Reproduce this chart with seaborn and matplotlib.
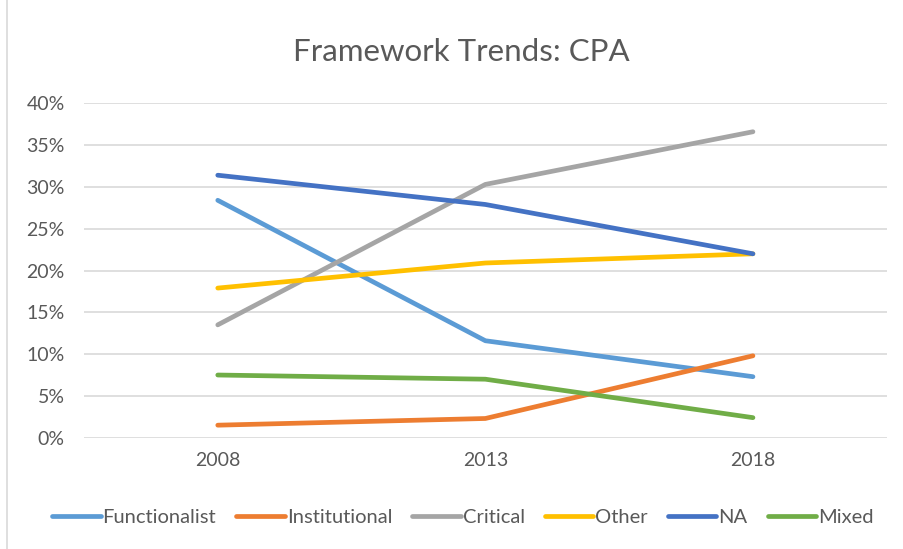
import matplotlib
matplotlib.use("Agg")
import matplotlib.pyplot as plt
from matplotlib.ticker import PercentFormatter
from matplotlib.lines import Line2D
import seaborn as sns
import pandas as pd

# ==========================================
# Data
# ==========================================
years = ["2008", "2013", "2018"]
functionalist = [0.284, 0.116, 0.073]
institutional = [0.015, 0.023, 0.098]
critical = [0.135, 0.303, 0.366]
other = [0.179, 0.209, 0.220]
na = [0.314, 0.279, 0.220]
mixed = [0.075, 0.070, 0.024]

series_names = ["Functionalist", "Institutional", "Critical", "Other", "NA", "Mixed"]
series_values = [functionalist, institutional, critical, other, na, mixed]
colors = ["#5B9BD5", "#ED7D31", "#A5A5A5", "#FFC000", "#4472C4", "#70AD47"]

rows = []
for name, vals in zip(series_names, series_values):
    for yr, v in zip(years, vals):
        rows.append({"Year": yr, "Framework": name, "Share": v})
df = pd.DataFrame(rows)

# ==========================================
# Plot
# ==========================================
sns.set_theme(style="white")
plt.rcParams['font.family'] = ['Lato', 'DejaVu Sans']

fig = plt.figure(figsize=(9.04, 5.49), dpi=100)
ax = fig.add_axes([0.0929, 0.2027, 0.888, 0.6091])

sns.lineplot(data=df, x="Year", y="Share", hue="Framework", hue_order=series_names,
             palette=colors, linewidth=3.4, ax=ax, legend=False, sort=False,
             solid_capstyle="round")

ax.set_xlim(-0.5, 2.5)
ax.set_ylim(0, 0.40)
ax.set_yticks([i * 0.05 for i in range(9)])
ax.yaxis.set_major_formatter(PercentFormatter(1.0, decimals=0))
ax.grid(axis="y", color="#D9D9D9", linewidth=1.2)
ax.set_axisbelow(True)
for sp in ax.spines.values():
    sp.set_visible(False)
ax.tick_params(axis="both", length=0, labelsize=14, colors="#595959", pad=10)
ax.tick_params(axis="y", pad=14)
ax.set_xlabel("")
ax.set_ylabel("")

fig.text(0.51, 0.905, "Framework Trends: CPA", ha="center", va="center",
         fontsize=22.5, color="#595959")

handles = [Line2D([0], [0], color=c, lw=3.4, solid_capstyle="round") for c in colors]
fig.legend(handles, series_names, loc="center", bbox_to_anchor=(0.512, 0.058),
           ncol=6, frameon=False, fontsize=14.5, handlelength=2.4, handletextpad=0.1,
           columnspacing=1.0, labelcolor="#595959")

# light chart border on the left, as in the source
fig.add_artist(Line2D([7 / 904, 7 / 904], [0, 1], color="#D9D9D9", lw=1.2,
                      transform=fig.transFigure))

fig.savefig("out.png", dpi=100)
